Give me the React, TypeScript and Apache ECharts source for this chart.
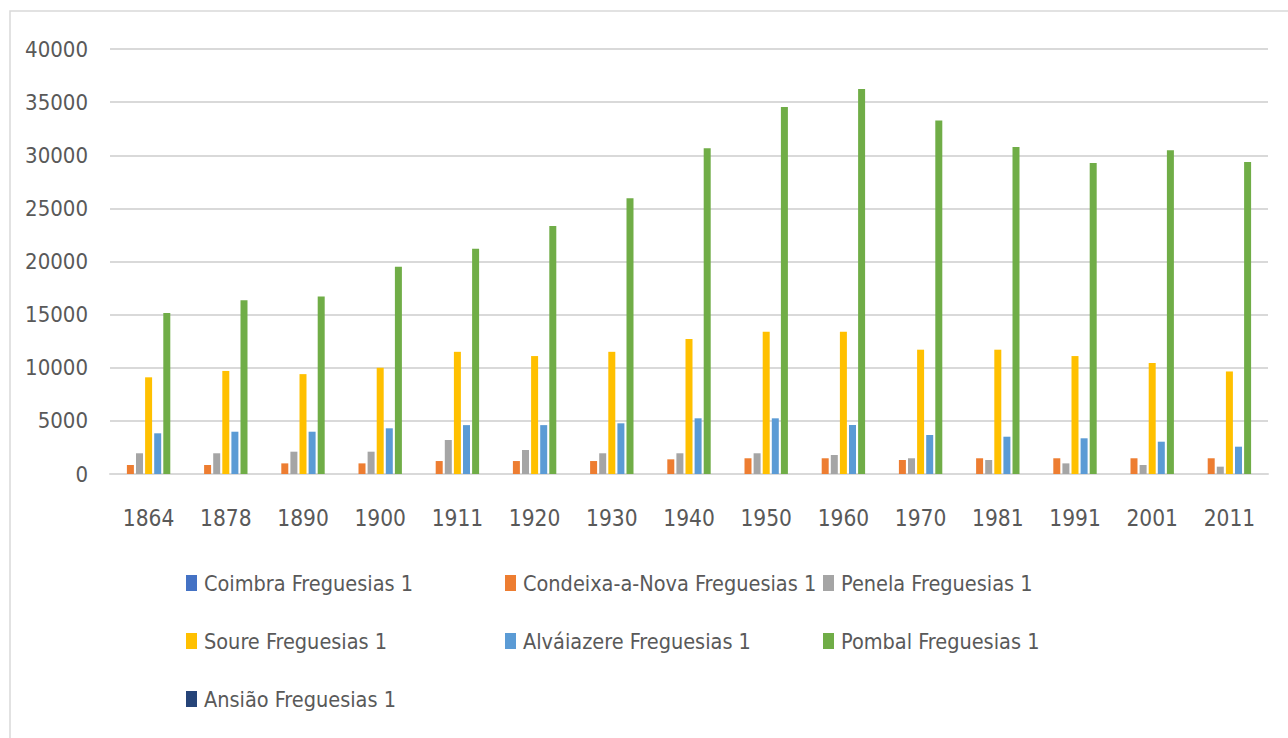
import React, { useEffect, useRef } from "react";
import * as echarts from "echarts";

const years = ["1864", "1878", "1890", "1900", "1911", "1920", "1930", "1940", "1950", "1960", "1970", "1981", "1991", "2001", "2011"];
const seriesNames = [
  "Coimbra Freguesias 1",
  "Condeixa-a-Nova Freguesias 1",
  "Penela Freguesias 1",
  "Soure Freguesias 1",
  "Alváiazere Freguesias 1",
  "Pombal Freguesias 1",
  "Ansião Freguesias 1",
];
const coimbra = [0, 0, 0, 0, 0, 0, 0, 0, 0, 0, 0, 0, 0, 0, 0];
const condeixa = [850, 850, 1000, 1000, 1220, 1220, 1220, 1380, 1480, 1480, 1320, 1480, 1480, 1480, 1480];
const penela = [1950, 1950, 2100, 2100, 3200, 2260, 1950, 1950, 1950, 1790, 1480, 1320, 1000, 850, 690];
const soure = [9100, 9700, 9400, 10000, 11500, 11100, 11500, 12700, 13400, 13400, 11700, 11700, 11100, 10450, 9650];
const alvaiazere = [3830, 3980, 3980, 4300, 4600, 4600, 4770, 5240, 5240, 4610, 3670, 3510, 3360, 3040, 2570];
const pombal = [15150, 16350, 16700, 19500, 21200, 23350, 25950, 30650, 34550, 36230, 33270, 30780, 29270, 30480, 29370];
const ansiao = [0, 0, 0, 0, 0, 0, 0, 0, 0, 0, 0, 0, 0, 0, 0];
const yTicks = { min: 0, max: 40000, interval: 5000 };

const colors = ["#4472C4", "#ED7D31", "#A5A5A5", "#FFC000", "#5B9BD5", "#70AD47", "#264478"];
const FONT = "'DejaVu Sans Condensed', 'Liberation Sans Narrow', 'Roboto', sans-serif";

export default function App() {
  const ref = useRef<HTMLDivElement>(null);
  useEffect(() => {
    document.body.style.margin = "0";
    const chart = echarts.init(ref.current!, null, { renderer: "svg" });
    const allData = [coimbra, condeixa, penela, soure, alvaiazere, pombal, ansiao];
    const legendPos = [
      [186, 583], [505, 583], [823, 583],
      [186, 641], [505, 641], [823, 641],
      [186, 699],
    ];
    chart.setOption({
      animation: false,
      color: colors,
      textStyle: { fontFamily: FONT },
      graphic: [
        {
          type: "rect",
          shape: { x: 10, y: 11, width: 1400, height: 800 },
          style: { fill: "none", stroke: "#d9d9d9", lineWidth: 1.5 },
          silent: true,
        },
      ],
      grid: { left: 110, right: 20, top: 49, bottom: 738 - 474, containLabel: false },
      xAxis: {
        type: "category",
        data: years,
        axisLine: { show: true, lineStyle: { color: "#d9d9d9", width: 2 } },
        axisTick: { show: false },
        axisLabel: { color: "#595959", fontSize: 22.5, fontFamily: FONT, margin: 32, interval: 0 },
      },
      yAxis: {
        type: "value",
        min: yTicks.min,
        max: yTicks.max,
        interval: yTicks.interval,
        axisLine: { show: false },
        axisTick: { show: false },
        axisLabel: {
          color: "#595959",
          fontSize: 22,
          fontFamily: FONT,
          margin: 22,
          formatter: (v: number) => String(v),
        },
        splitLine: { lineStyle: { color: "#d9d9d9", width: 2 } },
      },
      legend: seriesNames.map((n, i) => ({
        data: [n],
        left: legendPos[i][0],
        top: legendPos[i][1] - 11,
        icon: "rect",
        itemWidth: 11,
        itemHeight: 16,
        itemGap: 0,
        padding: 0,
        selectedMode: false,
        textStyle: { color: "#595959", fontSize: 21.5, fontFamily: FONT, padding: [0, 0, 0, 2] },
      })),
      series: seriesNames.map((n, i) => ({
        name: n,
        type: "bar",
        data: allData[i],
        barWidth: 7,
        barGap: "30%",
        itemStyle: { color: colors[i] },
      })),
    });
    return () => chart.dispose();
  }, []);
  return <div ref={ref} style={{ width: 1288, height: 738 }} />;
}
